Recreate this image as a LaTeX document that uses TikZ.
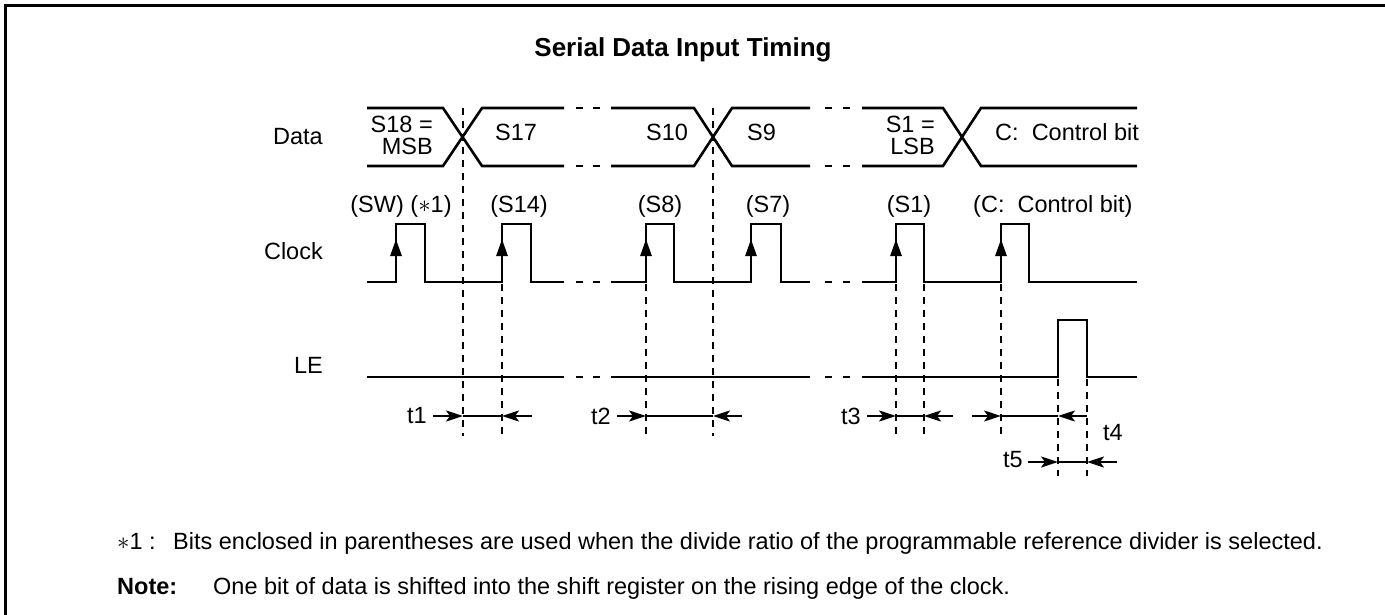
\documentclass[tikz,border=0pt]{standalone}
\usepackage{fontspec}
\setmainfont{Liberation Sans}
\usetikzlibrary{arrows.meta}
\begin{document}
\begin{tikzpicture}[x=1pt,y=-1pt,
  sig/.style={line width=2.6pt, line join=miter},
  guide/.style={line width=2pt, dash pattern=on 7pt off 6pt},
  meas/.style={line width=2.2pt},
  lbl/.style={font=\fontsize{23.5}{26}\selectfont, inner sep=0pt},
  ttl/.style={font=\fontsize{26}{30}\selectfont\bfseries, inner sep=0pt},
  edgearrow/.style={line width=2.8pt, -{Triangle[length=17pt,width=11pt]}},
  mtip/.style={line width=2.2pt, -{Stealth[length=17pt,width=11pt,inset=4pt]}}
]
\useasboundingbox (0,0) rectangle (1385,615);
% frame (top and left edges)
\draw[line width=2.5pt] (5.5,615) -- (5.5,5.5) -- (1385,5.5);

% title
\node[ttl, anchor=base] (title) at (683,57) {Serial Data Input Timing};

% row labels
\node[lbl, anchor=base east] (ldata) at (323,145) {Data};
\node[lbl, anchor=base east] (lclock) at (323,259) {Clock};
\node[lbl, anchor=base east] (lle) at (323,373) {LE};

% ---------------- Data bus ----------------
\draw[sig] (367,108) -- (443,108) -- (482,166) -- (564,166);
\draw[sig] (367,166) -- (443,166) -- (482,108) -- (564,108);
\draw[sig] (611,108) -- (694,108) -- (732,166) -- (810,166);
\draw[sig] (611,166) -- (694,166) -- (732,108) -- (810,108);
\draw[sig] (862,108) -- (943,108) -- (981,166) -- (1137,166);
\draw[sig] (862,166) -- (943,166) -- (981,108) -- (1137,108);
\foreach \y in {108,166,282,377}{
  \draw[sig] (576,\y) -- (583,\y);
  \draw[sig] (593,\y) -- (600,\y);
  \draw[sig] (825,\y) -- (832,\y);
  \draw[sig] (843,\y) -- (850,\y);
}
% data texts
\node[lbl, anchor=base east] (s18) at (433,133) {S18 =};
\node[lbl, anchor=base east] (msb) at (433,155) {MSB};
\node[lbl, anchor=base west] (s17) at (495,141) {S17};
\node[lbl, anchor=base] (s10) at (667,141) {S10};
\node[lbl, anchor=base west] (s9) at (747,141) {S9};
\node[lbl, anchor=base east] (s1) at (935,133) {S1 =};
\node[lbl, anchor=base east] (lsb) at (935,155) {LSB};
\node[lbl, anchor=base west] (cbit) at (995,141) {C:\ \ Control bit};

% ---------------- Clock ----------------
\draw[sig] (367,282) -- (396,282) -- (396,224) -- (425,224) -- (425,282) -- (502,282) -- (502,224) -- (531,224) -- (531,282) -- (564,282);
\draw[sig] (611,282) -- (646,282) -- (646,224) -- (674,224) -- (674,282) -- (751,282) -- (751,224) -- (781,224) -- (781,282) -- (810,282);
\draw[sig] (862,282) -- (896,282) -- (896,224) -- (924,224) -- (924,282) -- (1001,282) -- (1001,224) -- (1029,224) -- (1029,282) -- (1137,282);
\foreach \x in {396,502,646,751,896,1001}{
  \draw[edgearrow] (\x,282) -- (\x,239);
}
% clock texts
\node[lbl, anchor=base] (csw) at (401,212) {(SW) (\(\ast\)1)};
\node[lbl, anchor=base] (cs14) at (519,212) {(S14)};
\node[lbl, anchor=base] (cs8) at (660,212) {(S8)};
\node[lbl, anchor=base] (cs7) at (768,212) {(S7)};
\node[lbl, anchor=base] (cs1) at (909,212) {(S1)};
\node[lbl, anchor=base west] (cc) at (973,212) {(C:\ \ Control bit)};

% ---------------- LE ----------------
\draw[sig] (367,377) -- (564,377);
\draw[sig] (611,377) -- (810,377);
\draw[sig] (862,377) -- (1058,377) -- (1058,320) -- (1087,320) -- (1087,377) -- (1137,377);

% ---------------- guide lines ----------------
\draw[guide] (463,108) -- (463,436);
\draw[guide] (713,108) -- (713,436);
\foreach \x in {502,646,896,924,1001}{
  \draw[guide] (\x,284) -- (\x,436);
}
\draw[guide] (1058,379) -- (1058,476);
\draw[guide] (1087,379) -- (1087,476);

% ---------------- timing marks ----------------
\coordinate (a1) at (433,416); \coordinate (b1) at (463,416);
\coordinate (c1) at (502,416); \coordinate (d1) at (532,416);
\draw[mtip] (a1) -- (b1); \draw[meas] (b1) -- (c1); \draw[mtip] (d1) -- (c1);
\node[lbl, anchor=east] (t1) at (427,416) {t1};

\coordinate (a2) at (617,416); \coordinate (b2) at (646,416);
\coordinate (c2) at (713,416); \coordinate (d2) at (742,416);
\draw[mtip] (a2) -- (b2); \draw[meas] (b2) -- (c2); \draw[mtip] (d2) -- (c2);
\node[lbl, anchor=east] (t2) at (611,416) {t2};

\coordinate (a3) at (867,416); \coordinate (b3) at (896,416);
\coordinate (c3) at (924,416); \coordinate (d3) at (953,416);
\draw[mtip] (a3) -- (b3); \draw[meas] (b3) -- (c3); \draw[mtip] (d3) -- (c3);
\node[lbl, anchor=east] (t3) at (861,416) {t3};

\coordinate (a4) at (972,416); \coordinate (b4) at (1001,416);
\coordinate (c4) at (1058,416); \coordinate (d4) at (1087,416);
\draw[mtip] (a4) -- (b4); \draw[meas] (b4) -- (c4); \draw[mtip] (d4) -- (c4);
\node[lbl, anchor=base west] (t4) at (1103,440) {t4};

\coordinate (a5) at (1028,462); \coordinate (b5) at (1058,462);
\coordinate (c5) at (1087,462); \coordinate (d5) at (1117,462);
\draw[mtip] (a5) -- (b5); \draw[meas] (b5) -- (c5); \draw[mtip] (d5) -- (c5);
\node[lbl, anchor=east] (t5) at (1023,460) {t5};

% ---------------- footnotes ----------------
\node[lbl, anchor=base west] (fn1) at (117,549) {\(\ast\)1 :};
\node[lbl, anchor=base west] (fn1t) at (173,549) {Bits enclosed in parentheses are used when the divide ratio of the programmable reference divider is selected.};
\node[lbl, anchor=base west, font=\fontsize{23.5}{26}\selectfont\bfseries] (note) at (117,594) {Note:};
\node[lbl, anchor=base west] (notet) at (213,594) {One bit of data is shifted into the shift register on the rising edge of the clock.};
\end{tikzpicture}
\end{document}
